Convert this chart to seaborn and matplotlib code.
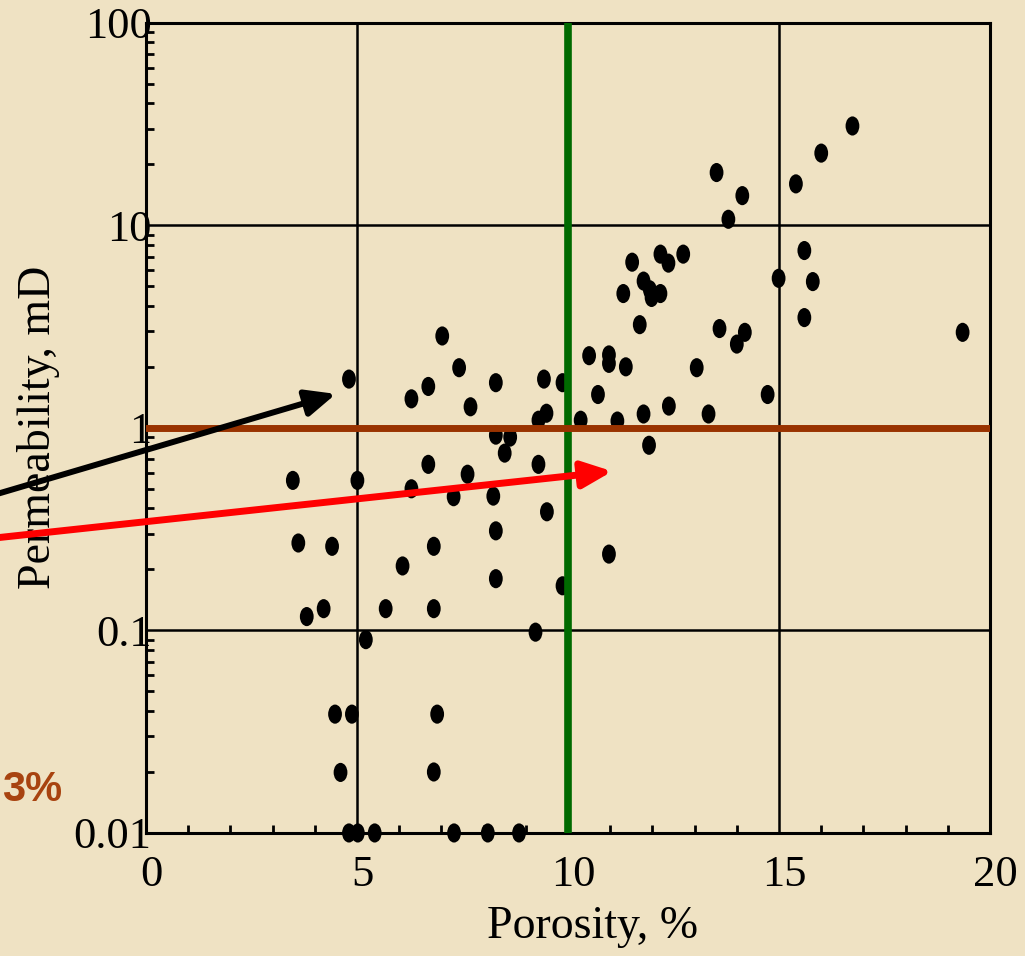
import pandas as pd
import matplotlib
matplotlib.use('Agg')
import matplotlib.pyplot as plt
import seaborn as sns
from matplotlib.path import Path
from matplotlib.transforms import Affine2D, ScaledTranslation
from matplotlib.ticker import LogLocator, NullFormatter

porosity = [3.48, 3.61, 3.81, 4.21, 4.41, 4.81, 4.48, 4.88, 4.61, 5.01,
            5.21, 4.81, 5.02, 5.42, 5.68, 6.08, 6.29, 6.29, 6.69, 6.69,
            6.82, 6.82, 6.82, 6.90, 7.02, 7.29, 7.30, 7.42, 7.62, 7.69,
            8.10, 8.23, 8.29, 8.29, 8.29, 8.29, 8.50, 8.63, 8.84, 9.23,
            9.30, 9.30, 9.43, 9.50, 9.49, 9.87, 9.87, 10.30, 10.50, 10.71,
            10.97, 10.97, 10.97, 11.17, 11.37, 11.31, 11.52, 11.70, 11.79, 11.79,
            11.92, 11.94, 11.98, 12.19, 12.19, 12.38, 12.39, 12.73, 13.05, 13.33,
            13.52, 13.59, 13.80, 14.00, 14.13, 14.19, 14.73, 14.99, 15.40, 15.60,
            15.60, 15.80, 16.00, 16.74, 19.35]
permeability = [0.55, 0.27, 0.117, 0.128, 0.26, 1.74, 0.0386, 0.0386, 0.0199, 0.55,
                0.09, 0.01, 0.01, 0.01, 0.128, 0.208, 1.39, 0.50, 1.60, 0.66,
                0.26, 0.128, 0.02, 0.0386, 2.84, 0.457, 0.01, 1.98, 0.59, 1.27,
                0.01, 0.46, 1.67, 0.31, 0.18, 0.92, 0.75, 0.90, 0.01, 0.098,
                0.66, 1.09, 1.74, 0.385, 1.18, 0.166, 1.67, 1.09, 2.27, 1.46,
                2.29, 2.08, 0.238, 1.08, 2.00, 4.60, 6.57, 3.23, 5.30, 1.17,
                0.82, 4.80, 4.40, 4.60, 7.20, 6.50, 1.28, 7.20, 1.98, 1.17,
                18.2, 3.09, 10.7, 2.59, 14.0, 2.96, 1.46, 5.47, 16.0, 7.50,
                3.50, 5.27, 22.7, 30.9, 2.96]

x_ticks = [0, 5, 10, 15, 20]
y_ticks = [0.01, 0.1, 1, 10, 100]
y_tick_labels = ['0.01', '0.1', '1', '10', '100']
porosity_cutoff = 10
perm_cutoff = 1

sns.set_style('white')
plt.rcParams['font.family'] = ['Liberation Serif', 'DejaVu Serif']

bg = '#EFE2C3'
fig = plt.figure(figsize=(10.25, 9.56), dpi=100, facecolor=bg)
ax = fig.add_axes([0.1424, 0.1287, 0.8235, 0.8476])
ax.set_facecolor(bg)

df = pd.DataFrame({'porosity': porosity, 'permeability': permeability})
ellipse = Path.unit_circle().transformed(Affine2D().scale(0.72, 1.0))
sns.scatterplot(data=df, x='porosity', y='permeability', marker=ellipse, s=190,
                color='black', edgecolor='none', linewidth=0, ax=ax,
                zorder=3, clip_on=False)

ax.set_yscale('log')
ax.set_xlim(0, 20)
ax.set_ylim(0.01, 100)

ax.set_xticks(x_ticks)
ax.set_xticks(range(1, 20), minor=True)
ax.set_yticks(y_ticks)
ax.set_yticklabels(y_tick_labels)
ax.yaxis.set_minor_locator(LogLocator(base=10, subs=range(2, 10)))
ax.yaxis.set_minor_formatter(NullFormatter())

ax.grid(True, which='major', color='black', lw=1.8, zorder=1)
ax.set_axisbelow(True)
for sp in ax.spines.values():
    sp.set_color('black')
    sp.set_linewidth(2.2)

ax.tick_params(axis='both', which='major', length=0, labelsize=32, colors='black')
ax.tick_params(axis='x', which='major', pad=16)
ax.tick_params(axis='y', which='major', pad=-4)
ax.tick_params(axis='both', which='minor', direction='in', length=6, width=2,
               color='black', bottom=True, left=True, top=False, right=False)

# x tick labels sit a little right of their gridlines in the original
shift = ScaledTranslation(5 / 100, 0, fig.dpi_scale_trans)
for lab in ax.get_xticklabels():
    lab.set_transform(lab.get_transform() + shift)

# cut-off lines
ax.axvline(porosity_cutoff, color='#006A00', lw=5.5, zorder=4)
ax.axhline(perm_cutoff, color='#993300', lw=5, zorder=4)

ax.set_xlabel('Porosity, %', fontsize=33, color='black')
ax.set_ylabel('Permeability, mD', fontsize=33, color='black')
ax.xaxis.set_label_coords(0.529, -0.09)
ax.yaxis.set_label_coords(-0.102, 0.5)

# arrows coming in from the left
ax.annotate('', xy=(4.5, 1.47), xytext=(-0.197, 0.412), textcoords='axes fraction',
            arrowprops=dict(arrowstyle='-|>,head_length=0.9,head_width=0.4',
                            mutation_scale=20, lw=4.3, color='black',
                            shrinkA=0, shrinkB=0),
            annotation_clip=False, zorder=6)
ax.annotate('', xy=(11.05, 0.61), xytext=(-0.197, 0.362), textcoords='axes fraction',
            arrowprops=dict(arrowstyle='-|>,head_length=0.9,head_width=0.4',
                            mutation_scale=20, lw=5, color='#FF0000',
                            shrinkA=0, shrinkB=0),
            annotation_clip=False, zorder=6)

fig.text(2 / 1025, 1 - 790 / 956, '3%', ha='left', va='center', color='#A84310',
         fontsize=30, fontweight='bold', family=['Liberation Sans', 'DejaVu Sans'])

fig.savefig('out.png', dpi=100, facecolor=bg)
